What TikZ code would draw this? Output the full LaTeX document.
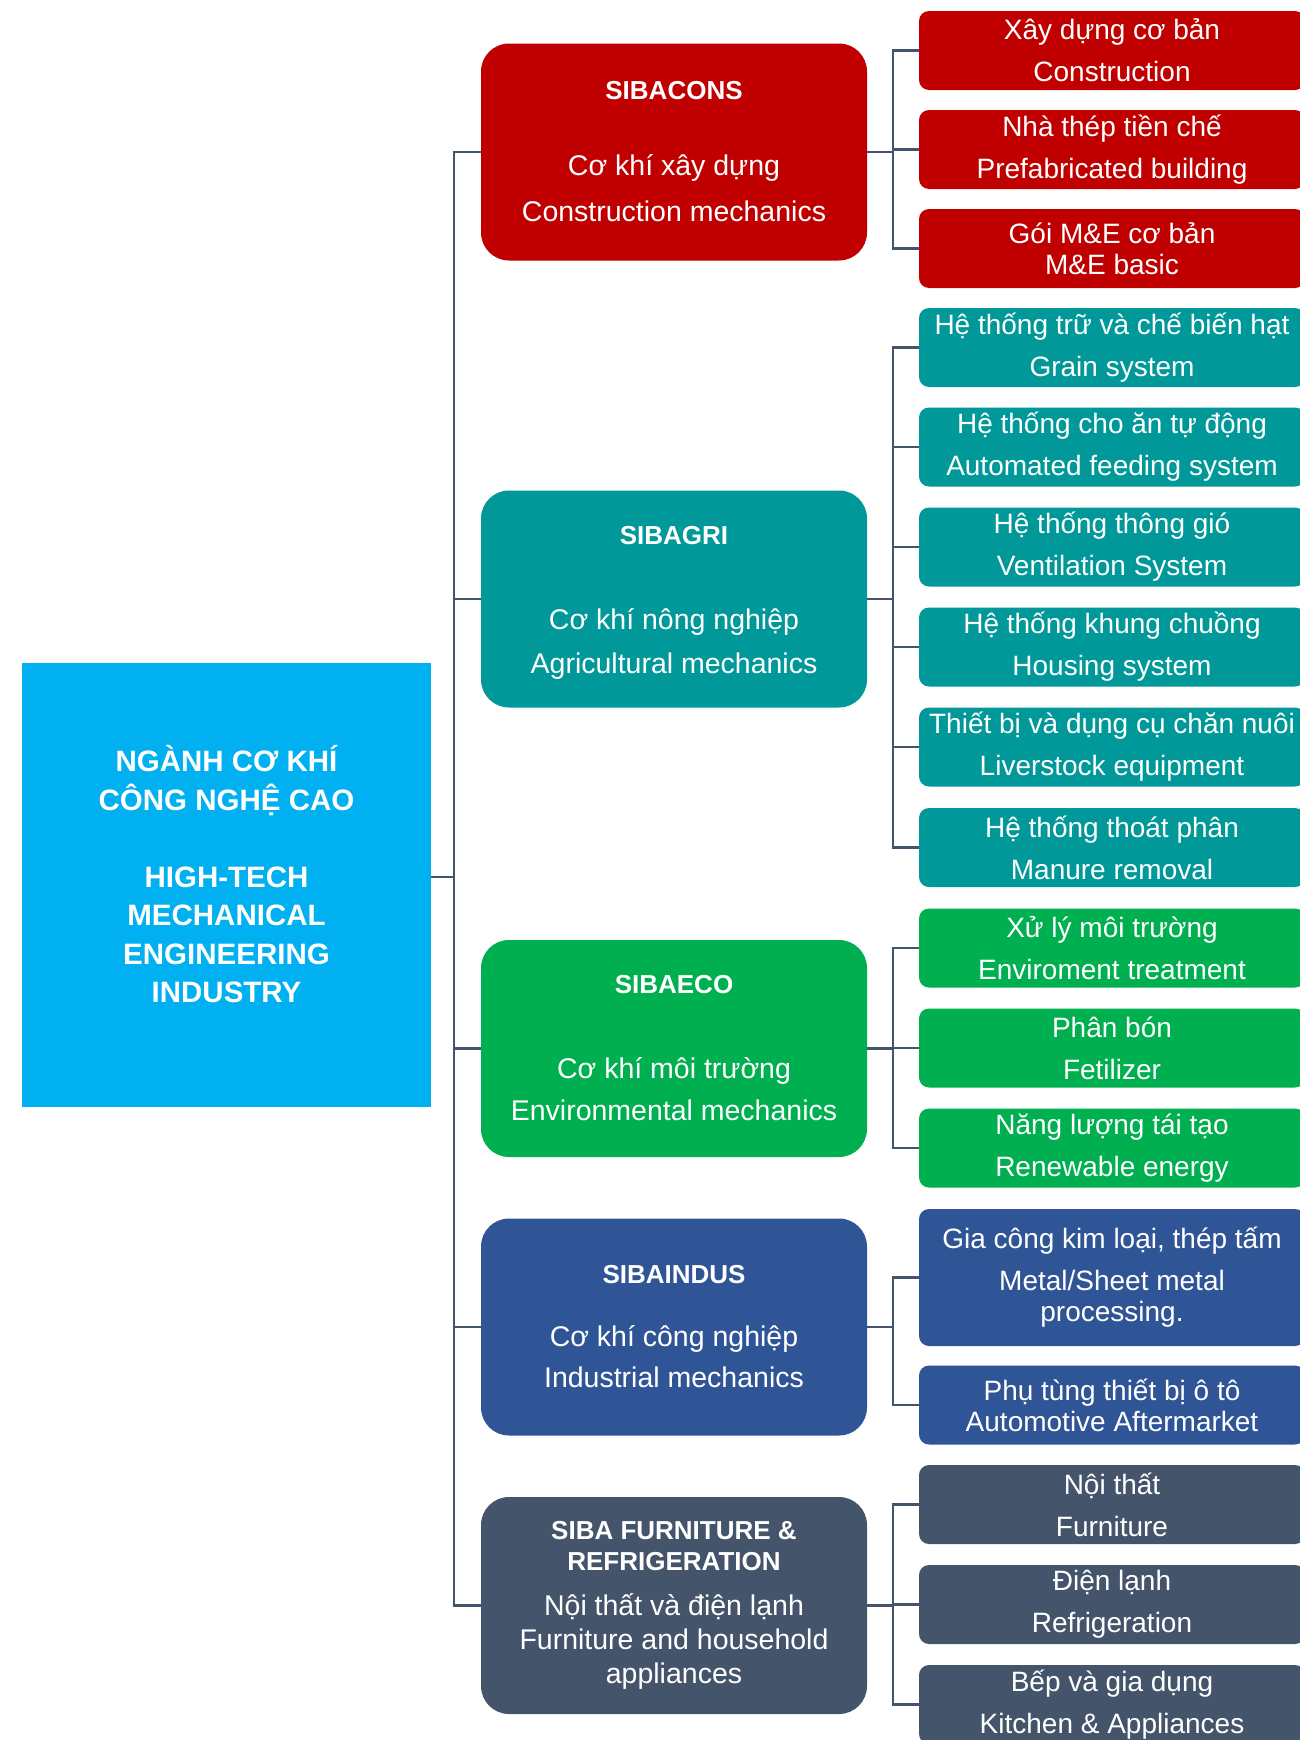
\documentclass[tikz,border=0pt]{standalone}
\usepackage{fontspec}
\setmainfont{Liberation Sans}
\definecolor{rootc}{HTML}{00B0F0}
\definecolor{redc}{HTML}{C00000}
\definecolor{tealc}{HTML}{009899}
\definecolor{greenc}{HTML}{00B050}
\definecolor{bluec}{HTML}{2F5597}
\definecolor{slatec}{HTML}{44546A}
\definecolor{linec}{HTML}{44546A}
\tikzset{
  rootbox/.style={fill=rootc, text=white, minimum width=409pt, minimum height=444pt, inner sep=0pt, align=center, font=\bfseries\fontsize{29.5}{38.5}\selectfont},
  midbox/.style={rounded corners=28pt, minimum width=386pt, minimum height=217pt, text=white, align=center, inner sep=0pt, font=\fontsize{28.5}{44}\selectfont},
  subbox/.style={rounded corners=10pt, minimum width=386pt, minimum height=79pt, text=white, align=center, inner sep=0pt, font=\fontsize{28}{42}\selectfont},
  conn/.style={draw=linec, line width=2.5pt, line join=miter},
}
\newcommand{\ttl}[1]{{\bfseries\fontsize{26}{44}\selectfont #1}}
\begin{document}
\begin{tikzpicture}[x=1pt,y=-1pt]
\useasboundingbox (0,0) rectangle (1300,1740);
\clip (0,0) rectangle (1300,1740);
\fill[white] (0,0) rectangle (1300,1740);

\coordinate (tx) at (454,0);
\coordinate (bx) at (893,0);

% root
\node[rootbox] (root) at (226.5,885) {NGÀNH CƠ KHÍ\\CÔNG NGHỆ CAO\\[38.5pt]HIGH-TECH\\MECHANICAL\\ENGINEERING\\INDUSTRY\rule[-22pt]{0pt}{1pt}};

% middle
\node[midbox, fill=redc] (m1) at (674,152) {\ttl{SIBACONS}\\[32pt]Cơ khí xây dựng\\[2pt]Construction mechanics};
\node[midbox, fill=tealc] (m2) at (674,599) {\ttl{\rule{0pt}{25pt}SIBAGRI}\\[41pt]Cơ khí nông nghiệp\\Agricultural mechanics};
\node[midbox, fill=greenc] (m3) at (674,1048.5) {\ttl{SIBAECO}\\[41pt]Cơ khí môi trường\\[-2pt]Environmental mechanics};
\node[midbox, fill=bluec] (m4) at (674,1327) {\ttl{SIBAINDUS}\\[19pt]Cơ khí công nghiệp\\[-3pt]Industrial mechanics};
\node[midbox, fill=slatec] (m5) at (674,1605.5) {\ttl{SIBA FURNITURE \&}\\[-13pt]\ttl{REFRIGERATION}\\[1pt]Nội thất và điện lạnh\\[-10pt]Furniture and household\\[-10pt]appliances};

% right: red
\node[subbox, fill=redc] (r1) at (1112,50.5) {Xây dựng cơ bản\\Construction};
\node[subbox, fill=redc] (r2) at (1112,149.5) {Nhà thép tiền chế\\Prefabricated building};
\node[subbox, fill=redc] (r3) at (1112,248.5) {Gói M\&E cơ bản\\[-11pt]M\&E basic};
% teal
\node[subbox, fill=tealc] (t1) at (1112,347.5) {Hệ thống trữ và chế biến hạt\\Grain system};
\node[subbox, fill=tealc] (t2) at (1112,447) {Hệ thống cho ăn tự động\\Automated feeding system};
\node[subbox, fill=tealc] (t3) at (1112,547) {Hệ thống thông gió\\Ventilation System};
\node[subbox, fill=tealc] (t4) at (1112,647) {Hệ thống khung chuồng\\Housing system};
\node[subbox, fill=tealc] (t5) at (1112,747) {Thiết bị và dụng cụ chăn nuôi\\Liverstock equipment};
\node[subbox, fill=tealc] (t6) at (1112,847.5) {Hệ thống thoát phân\\Manure removal};
% green
\node[subbox, fill=greenc] (g1) at (1112,948) {Xử lý môi trường\\Enviroment treatment};
\node[subbox, fill=greenc] (g2) at (1112,1048) {Phân bón\\Fetilizer};
\node[subbox, fill=greenc] (g3) at (1112,1148) {Năng lượng tái tạo\\Renewable energy};
% blue
\node[subbox, fill=bluec, minimum height=137pt] (b1) at (1112,1277.5) {Gia công kim loại, thép tấm\\Metal/Sheet metal\\[-11pt]processing.};
\node[subbox, fill=bluec] (b2) at (1112,1405) {Phụ tùng thiết bị ô tô\\[-11pt]Automotive Aftermarket};
% slate
\node[subbox, fill=slatec] (s1) at (1112,1504.5) {Nội thất\\Furniture};
\node[subbox, fill=slatec] (s2) at (1112,1604.5) {Điện lạnh\\Refrigeration};
\node[subbox, fill=slatec] (s3) at (1112,1704.5) {Bếp và gia dụng\\Kitchen \& Appliances};

% trunk
\foreach \m in {m1,m2,m3,m4,m5}
  \draw[conn] ([yshift=8pt]root.east) -- ([yshift=8pt]root.east -| tx) |- (\m.west);

% brackets
\foreach \c in {r1,r2,r3} \draw[conn] (m1.east) -- (m1.east -| bx) |- (\c.west);
\foreach \c in {t1,t2,t3,t4,t5,t6} \draw[conn] (m2.east) -- (m2.east -| bx) |- (\c.west);
\foreach \c in {g1,g2,g3} \draw[conn] (m3.east) -- (m3.east -| bx) |- (\c.west);
\foreach \c in {b1,b2} \draw[conn] (m4.east) -- (m4.east -| bx) |- (\c.west);
\foreach \c in {s1,s2,s3} \draw[conn] (m5.east) -- (m5.east -| bx) |- (\c.west);
\end{tikzpicture}
\end{document}
